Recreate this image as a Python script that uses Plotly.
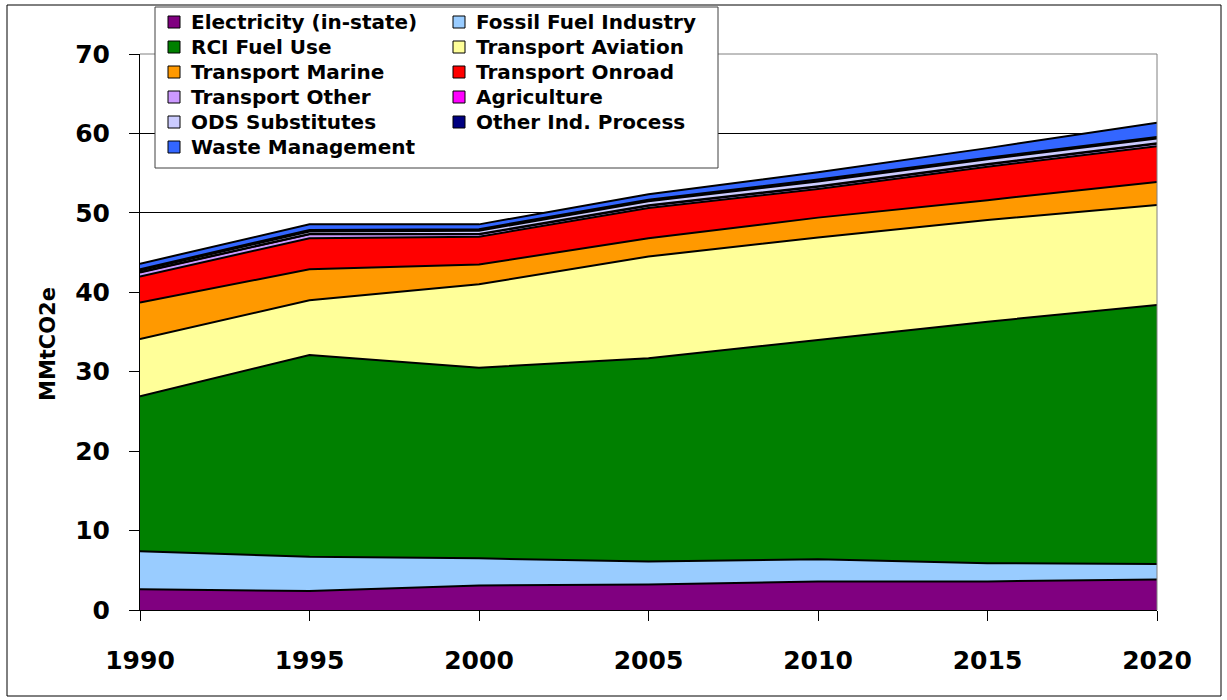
import plotly.graph_objects as go

years = [1990, 1995, 2000, 2005, 2010, 2015, 2020]

# MMtCO2e by sector (stack order bottom -> top)
electricity = [2.6, 2.4, 3.1, 3.2, 3.6, 3.6, 3.85]
fossil_fuel = [4.8, 4.3, 3.4, 2.9, 2.8, 2.3, 1.95]
rci_fuel = [19.5, 25.4, 24.0, 25.6, 27.6, 30.4, 32.6]
aviation = [7.2, 6.9, 10.5, 12.8, 12.9, 12.8, 12.6]
marine = [4.6, 3.9, 2.5, 2.3, 2.5, 2.5, 2.9]
onroad = [3.3, 3.9, 3.5, 3.8, 3.6, 4.2, 4.5]
transport_other = [0.5, 0.5, 0.3, 0.3, 0.3, 0.3, 0.3]
agriculture = [0.05, 0.05, 0.05, 0.05, 0.05, 0.05, 0.05]
ods_subst = [0.2, 0.3, 0.4, 0.5, 0.6, 0.6, 0.6]
other_ind = [0.15, 0.2, 0.2, 0.2, 0.25, 0.2, 0.2]
waste = [0.7, 0.7, 0.6, 0.7, 0.9, 1.2, 1.8]

names = ["Electricity (in-state)", "Fossil Fuel Industry", "RCI Fuel Use",
         "Transport Aviation", "Transport Marine", "Transport Onroad",
         "Transport Other", "Agriculture", "ODS Substitutes",
         "Other Ind. Process", "Waste Management"]
series = [electricity, fossil_fuel, rci_fuel, aviation, marine, onroad,
          transport_other, agriculture, ods_subst, other_ind, waste]
colors = ["#800080", "#99CCFF", "#008000", "#FFFF99", "#FF9900", "#FF0000",
          "#CC99FF", "#FF00FF", "#CCCCFF", "#000080", "#3366FF"]

W, H = 1227, 700
L, R, T, B = 140, 70, 54, 90
PW, PH = W - L - R, H - T - B


def px_x(px):
    return (px - L) / PW


def px_y(py):
    return (H - B - py) / PH


fig = go.Figure()
for name, vals, col in zip(names, series, colors):
    fig.add_trace(go.Scatter(
        x=years, y=vals, name=name, mode="lines",
        stackgroup="one", fillcolor=col,
        line=dict(color="black", width=2),
        showlegend=False,
        hovertemplate="%{x}: %{y}<extra>" + name + "</extra>",
    ))

shapes = [
    # gray plot-area border top/right
    dict(type="line", xref="paper", yref="paper", x0=0, x1=1, y0=1, y1=1,
         line=dict(color="#808080", width=1), layer="above"),
    dict(type="line", xref="paper", yref="paper", x0=1, x1=1, y0=0, y1=1,
         line=dict(color="#808080", width=1), layer="above"),
    # outer frame
    dict(type="rect", xref="paper", yref="paper",
         x0=px_x(7), x1=px_x(1221), y0=px_y(696), y1=px_y(5),
         line=dict(color="black", width=1), layer="above"),
    # legend box
    dict(type="rect", xref="paper", yref="paper",
         x0=px_x(155), x1=px_x(718), y0=px_y(168), y1=px_y(7),
         line=dict(color="#404040", width=1), fillcolor="white", layer="above"),
]

annotations = [
    # y-axis title, placed like the original (slightly below plot centre)
    dict(xref="paper", yref="paper", x=px_x(48), y=px_y(344),
         xanchor="center", yanchor="middle", textangle=-90,
         text="MMtCO2e", showarrow=False,
         font=dict(family="DejaVu Sans", size=21, color="black", weight="bold")),
]
# legend laid out in two columns, in the order of the reference
col_x = [168, 453]
row_y0, row_dy = 22, 25
for i, (name, col) in enumerate(zip(names, colors)):
    c, r = i % 2, i // 2
    cx, cy = col_x[c], row_y0 + r * row_dy
    shapes.append(dict(type="rect", xref="paper", yref="paper",
                       x0=px_x(cx), x1=px_x(cx + 12),
                       y0=px_y(cy + 6), y1=px_y(cy - 6),
                       fillcolor=col, line=dict(color="black", width=1),
                       layer="above"))
    annotations.append(dict(xref="paper", yref="paper",
                            x=px_x(cx + 21), y=px_y(cy),
                            xanchor="left", yanchor="middle",
                            text=name, showarrow=False,
                            font=dict(family="DejaVu Sans", size=20,
                                      color="black", weight="bold")))

fig.update_layout(
    width=W, height=H,
    margin=dict(l=L, r=R, t=T, b=B),
    paper_bgcolor="white", plot_bgcolor="white",
    showlegend=False,
    shapes=shapes, annotations=annotations,
    font=dict(family="DejaVu Sans", color="black"),
)
fig.update_xaxes(
    range=[1990, 2020], tickmode="array", tickvals=years,
    showgrid=False, zeroline=False,
    showline=True, linecolor="black", linewidth=1,
    ticks="outside", ticklen=10, tickcolor="black",
    ticklabelstandoff=18,
    tickfont=dict(family="DejaVu Sans", size=25, color="black", weight="bold"),
)
fig.update_yaxes(
    range=[0, 70], dtick=10,
    showgrid=True, gridcolor="black", gridwidth=1, zeroline=False,
    showline=True, linecolor="black", linewidth=1,
    ticks="outside", ticklen=10, tickcolor="black",
    ticklabelstandoff=14,
    tickfont=dict(family="DejaVu Sans", size=25, color="black", weight="bold"),
)

# drop the default 8px body margin so the figure sits at the page origin
fig.write_html("out.html", config={"displayModeBar": False},
               post_script="document.body.style.margin = '0';")
